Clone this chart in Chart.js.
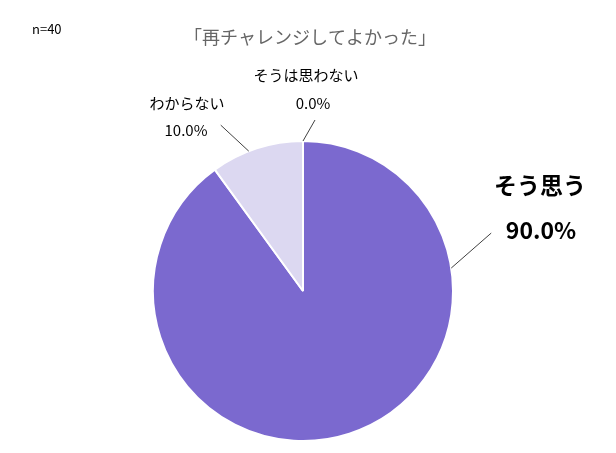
<!DOCTYPE html>
<html>
<head>
<meta charset="utf-8">
<script src="https://cdn.jsdelivr.net/npm/chart.js@4.4.0/dist/chart.umd.min.js"></script>
<style>
  body { margin: 0; background: #fff; }
  #wrap { width: 616px; height: 453px; position: relative; }
</style>
</head>
<body>
<div id="wrap"><canvas id="chart-pie"></canvas></div>
<script>
// data
var categories = ["そう思う", "わからない", "そうは思わない"];
var values = [90.0, 10.0, 0.0];
var colors = ["#7B69CF", "#DCD8F1", "#C9C2EA"];
var titleText = "「再チャレンジしてよかった」";
var sampleText = "n=40";

// label layout: anchor angle (deg, clockwise from top), leader end offset, text offsets from center
var labelPos = [
    { angle: 81.2, lead: [40, -35], name: [237, -106], val: [238, -61], font: "bold 23px 'Noto Sans CJK JP'" },
    { angle: 338.8, lead: [-28, -26], name: [-116, -188], val: [-117, -161], font: "15px 'Noto Sans CJK JP'" },
    { angle: 0, lead: [12, -21], name: [3, -216], val: [10, -188], font: "15px 'Noto Sans CJK JP'" }
];

var labelPlugin = {
    id: "pieLabels",
    afterDatasetsDraw: function(chart) {
        var ctx = chart.ctx;
        var meta = chart.getDatasetMeta(0);
        var first = meta.data[0];
        var cx = first.x, cy = first.y, r = first.outerRadius;
        ctx.save();

        // title and n
        ctx.fillStyle = "#666";
        ctx.font = "18px 'Noto Sans CJK JP'";
        ctx.textAlign = "center";
        ctx.textBaseline = "middle";
        ctx.fillText(titleText, 310, 37);
        ctx.fillStyle = "#000";
        ctx.font = "13px 'Noto Sans CJK JP'";
        ctx.textAlign = "left";
        ctx.fillText(sampleText, 32, 29);

        meta.data.forEach(function(arc, i) {
            var p = labelPos[i];
            var a = p.angle * Math.PI / 180;
            var ax = cx + r * Math.sin(a);
            var ay = cy - r * Math.cos(a);
            ctx.strokeStyle = "#404040";
            ctx.lineWidth = 1;
            ctx.beginPath();
            ctx.moveTo(ax, ay);
            ctx.lineTo(ax + p.lead[0], ay + p.lead[1]);
            ctx.stroke();

            ctx.fillStyle = "#000";
            ctx.font = p.font;
            ctx.textAlign = "center";
            ctx.textBaseline = "middle";
            ctx.fillText(categories[i], cx + p.name[0], cy + p.name[1]);
            ctx.fillText(values[i].toFixed(1) + "%", cx + p.val[0], cy + p.val[1]);
        });
        ctx.restore();
    }
};

var myPie = new Chart(document.getElementById("chart-pie"), {
    type: "pie",
    data: {
        labels: categories,
        datasets: [{
            data: values,
            backgroundColor: colors,
            borderColor: "#fff",
            borderWidth: 2
        }]
    },
    options: {
        responsive: true,
        maintainAspectRatio: false,
        animation: false,
        layout: {
            padding: { top: 140, bottom: 11, left: 152, right: 162 }
        },
        plugins: {
            legend: { display: false },
            tooltip: { enabled: false }
        }
    },
    plugins: [labelPlugin]
});
</script>
</body>
</html>
